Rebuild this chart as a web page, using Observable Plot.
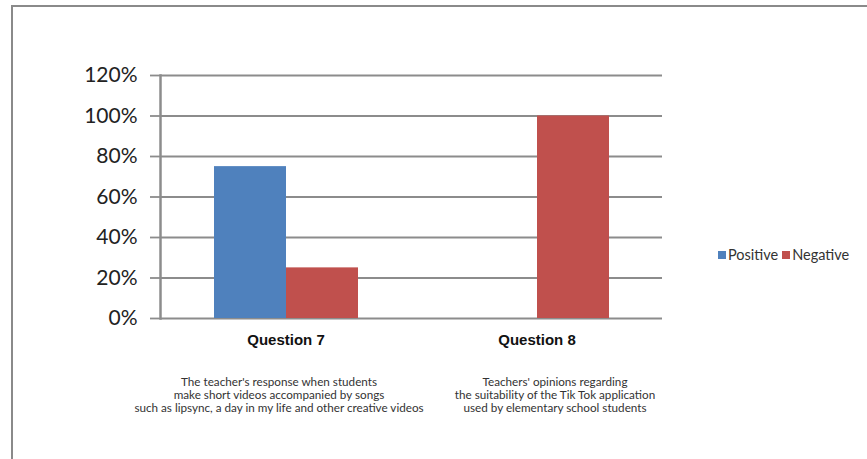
<!DOCTYPE html>
<html>
<head>
<meta charset="utf-8">
<script src="https://cdn.jsdelivr.net/npm/d3@7"></script>
<script src="https://cdn.jsdelivr.net/npm/@observablehq/plot@0.6"></script>
<style>
  html, body { margin: 0; padding: 0; background: #fff; }
  #wrap { position: relative; width: 867px; height: 459px; overflow: hidden; font-family: Lato, "DejaVu Sans", sans-serif; }
  #border { position: absolute; left: 11px; top: 5px; width: 880px; height: 470px; border: 2px solid #8a8a8a; box-sizing: border-box; }
  #chart { position: absolute; left: 0; top: 0; }
  #legend { position: absolute; left: 718px; top: 246px; display: flex; align-items: center; font-size: 14.5px; color: #333; white-space: nowrap; }
  #legend .sw { display: inline-block; width: 8px; height: 8px; margin-right: 2px; }
  #legend .item { display: inline-flex; align-items: center; margin-right: 4px; }
</style>
</head>
<body>
<div id="wrap">
  <div id="border"></div>
  <div id="chart"></div>
  <div id="legend"></div>
</div>
<script>
const questions = ["Question 7", "Question 8"];
const series = ["Positive", "Negative"];
const colors = ["#4f81bd", "#c0504d"];
const positive = [0.75, 0];
const negative = [0.25, 1.0];
const descriptions = [
  "The teacher's response when students\nmake short videos accompanied by songs\nsuch as lipsync, a day in my life and other creative videos",
  "Teachers' opinions regarding\nthe suitability of the Tik Tok application\nused by elementary school students"
];
const yTicks = [0, 0.2, 0.4, 0.6, 0.8, 1.0, 1.2];

const rows = [];
questions.forEach((q, i) => {
  rows.push({q, s: series[0], v: positive[i]});
  rows.push({q, s: series[1], v: negative[i]});
});
const desc = questions.map((q, i) => ({q, text: descriptions[i]}));

const gridColor = "#8c8c8c";

const chart = Plot.plot({
  width: 867,
  height: 440,
  marginLeft: 160,
  marginRight: 205,
  marginTop: 75,
  marginBottom: 122,
  style: {fontFamily: "Lato, 'DejaVu Sans', sans-serif", background: "transparent", color: "#222"},
  fx: {domain: questions, padding: 0, label: null},
  x: {domain: series, paddingInner: 0, paddingOuter: 0.743, axis: null},
  y: {domain: [0, 1.2], axis: null},
  color: {domain: series, range: colors},
  marks: [
    Plot.gridY(yTicks, {stroke: gridColor, strokeOpacity: 1, strokeWidth: 1.8}),
    Plot.axisY(yTicks, {tickFormat: d3.format(".0%"), tickSize: 10, tickPadding: 13, fontSize: 21, stroke: gridColor, strokeWidth: 1.8, strokeOpacity: 1, label: null, fill: "#222"}),
    Plot.frame({anchor: "left", facetAnchor: "left", stroke: gridColor, strokeWidth: 2.5}),
    Plot.barY(rows, {fx: "q", x: "s", y: "v", fill: "s"}),
    Plot.axisFx({anchor: "bottom", tickSize: 0, tickPadding: 16, fontSize: 15, fontWeight: "bold", fontFamily: "'Liberation Sans', Arial, sans-serif", fill: "#111", label: null}),
    Plot.text(desc.filter(d => d.q === questions[0]), {fx: "q", text: "text", frameAnchor: "bottom", lineAnchor: "top", dy: 58, dx: -7, fontSize: 11.7, lineHeight: 1.12, fill: "#333"}),
    Plot.text(desc.filter(d => d.q === questions[1]), {fx: "q", text: "text", frameAnchor: "bottom", lineAnchor: "top", dy: 58, dx: 18, fontSize: 11.7, lineHeight: 1.12, fill: "#333"})
  ]
});
document.getElementById("chart").appendChild(chart);

const legend = document.getElementById("legend");
series.forEach((s, i) => {
  const item = document.createElement("span");
  item.className = "item";
  const sw = document.createElement("span");
  sw.className = "sw";
  sw.style.background = colors[i];
  item.appendChild(sw);
  item.appendChild(document.createTextNode(s));
  legend.appendChild(item);
});
</script>
</body>
</html>
